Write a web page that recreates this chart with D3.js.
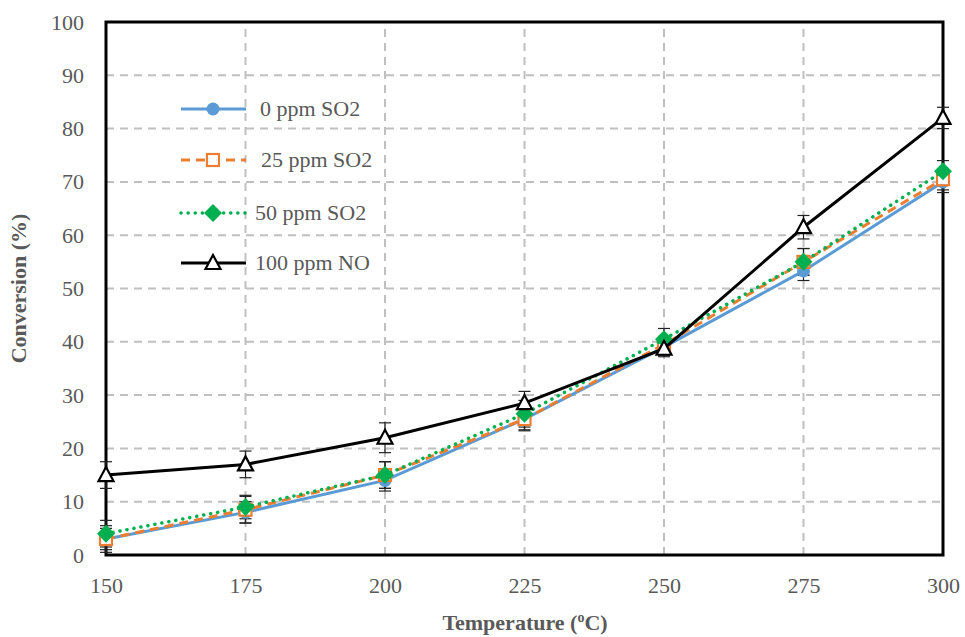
<!DOCTYPE html>
<html><head><meta charset="utf-8">
<script src="https://cdn.jsdelivr.net/npm/d3@7"></script>
<style>body{margin:0;background:#fff;} svg{display:block;}</style>
</head><body>
<svg id="chart" width="965" height="637"></svg>
<script>
const temps = [150, 175, 200, 225, 250, 275, 300];
const yTicks = [0,10,20,30,40,50,60,70,80,90,100];
const seriesNames = ["0 ppm SO2", "25 ppm SO2", "50 ppm SO2", "100 ppm NO"];
const so2_0 = [3, 8, 14, 25.5, 39, 53.3, 70];
const so2_25 = [3, 8.5, 15, 25.5, 39.5, 55, 70.5];
const so2_50 = [4, 9, 15, 26.5, 40.5, 55, 72];
const no_100 = [15, 17, 22, 28.5, 38.7, 61.5, 82];
const err_0 = [2, 2, 2, 2, 1.5, 1.8, 2];
const err_25 = [2.5, 2.5, 2.5, 2.2, 1.5, 2.5, 2];
const err_50 = [2.5, 2.2, 2.5, 2.5, 2, 2.5, 2];
const err_no = [2.5, 2.5, 2.8, 2.2, 1.5, 2.2, 2];

const svg = d3.select("#chart");
const m = {l:106, r:22, t:22, b:82};
const W = 965, H = 637;
const x = d3.scaleLinear().domain([150,300]).range([m.l, W - m.r]);
const y = d3.scaleLinear().domain([0,100]).range([H - m.b, m.t]);
const font = "'Liberation Serif','DejaVu Serif',serif";
const gray = "#595959";

// gridlines
svg.append("g").selectAll("line").data(yTicks.slice(1,-1)).join("line")
  .attr("x1", x(150)).attr("x2", x(300)).attr("y1", d=>y(d)).attr("y2", d=>y(d))
  .attr("stroke", "#c0c0c0").attr("stroke-width", 2).attr("stroke-dasharray", "8,6");
svg.append("g").selectAll("line").data(temps.slice(1,-1)).join("line")
  .attr("x1", d=>x(d)).attr("x2", d=>x(d)).attr("y1", y(0)).attr("y2", y(100))
  .attr("stroke", "#c0c0c0").attr("stroke-width", 2).attr("stroke-dasharray", "8,6");

// axes (labels only)
const yAxis = d3.axisLeft(y).tickValues(yTicks).tickSize(0).tickPadding(22);
const gy = svg.append("g").attr("transform", `translate(${x(150)},0)`).call(yAxis);
gy.select(".domain").remove();
gy.selectAll("text").attr("font-family", font).attr("font-size", 22).attr("fill", gray);
const xAxis = d3.axisBottom(x).tickValues(temps).tickSize(0).tickPadding(22);
const gx = svg.append("g").attr("transform", `translate(0,${y(0)})`).call(xAxis);
gx.select(".domain").remove();
gx.selectAll("text").attr("font-family", font).attr("font-size", 22).attr("fill", gray);

// plot border
svg.append("rect").attr("x", x(150)).attr("y", y(100)).attr("width", x(300)-x(150)).attr("height", y(0)-y(100))
  .attr("fill", "none").attr("stroke", "#000").attr("stroke-width", 3);

// titles
const xt = svg.append("text").attr("x", 525).attr("y", 630).attr("text-anchor", "middle")
  .attr("font-family", font).attr("font-size", 22).attr("font-weight", "bold").attr("fill", gray);
xt.append("tspan").text("Temperature (");
xt.append("tspan").text("o").attr("font-size", 14).attr("dy", -8);
xt.append("tspan").attr("dy", 8).text("C)");
svg.append("text").attr("transform", `translate(26,${(y(0)+y(100))/2}) rotate(-90)`).attr("text-anchor", "middle")
  .attr("font-family", font).attr("font-size", 22).attr("font-weight", "bold").attr("fill", gray)
  .text("Conversion (%)");

const series = [
  {name: seriesNames[0], vals: so2_0, err: err_0, color: "#5B9BD5", dash: null, marker: "circle", w: 3},
  {name: seriesNames[1], vals: so2_25, err: err_25, color: "#ED7D31", dash: "9,6", marker: "square", w: 3},
  {name: seriesNames[2], vals: so2_50, err: err_50, color: "#00B050", dash: "0.1,7", marker: "diamond", w: 3.5},
  {name: seriesNames[3], vals: no_100, err: err_no, color: "#000000", dash: null, marker: "triangle", w: 3}
];

function drawMarker(g, type, color, cx, cy) {
  if (type === "circle") {
    g.append("circle").attr("cx", cx).attr("cy", cy).attr("r", 6.5).attr("fill", color);
  } else if (type === "square") {
    g.append("rect").attr("x", cx-6).attr("y", cy-6).attr("width", 12).attr("height", 12)
      .attr("fill", "#fff").attr("stroke", color).attr("stroke-width", 2.2);
  } else if (type === "diamond") {
    g.append("path").attr("d", `M${cx},${cy-9}L${cx+9},${cy}L${cx},${cy+9}L${cx-9},${cy}Z`).attr("fill", color);
  } else {
    g.append("path").attr("d", `M${cx},${cy-8}L${cx+7.5},${cy+6}L${cx-7.5},${cy+6}Z`)
      .attr("fill", "#fff").attr("stroke", color).attr("stroke-width", 2.2);
  }
}

const line = d3.line().x((d,i)=>x(temps[i])).y(d=>y(d));
// error bars
series.forEach(s => {
  const g = svg.append("g").attr("stroke", "#222").attr("stroke-width", 1.2);
  s.vals.forEach((v,i) => {
    const cx = x(temps[i]);
    g.append("line").attr("x1", cx).attr("x2", cx).attr("y1", y(v+s.err[i])).attr("y2", y(v-s.err[i]));
    g.append("line").attr("x1", cx-6).attr("x2", cx+6).attr("y1", y(v+s.err[i])).attr("y2", y(v+s.err[i]));
    g.append("line").attr("x1", cx-6).attr("x2", cx+6).attr("y1", y(v-s.err[i])).attr("y2", y(v-s.err[i]));
  });
});
series.forEach(s => {
  svg.append("path").datum(s.vals).attr("d", line).attr("fill", "none")
    .attr("stroke", s.color).attr("stroke-width", s.w)
    .attr("stroke-dasharray", s.dash).attr("stroke-linecap", s.marker==="diamond" ? "round" : "butt");
  const g = svg.append("g");
  s.vals.forEach((v,i) => drawMarker(g, s.marker, s.color, x(temps[i]), y(v)));
});

// legend
const legY = [109, 160, 213, 263];
series.forEach((s,i) => {
  const g = svg.append("g");
  g.append("line").attr("x1", 181).attr("x2", 246).attr("y1", legY[i]).attr("y2", legY[i])
    .attr("stroke", s.color).attr("stroke-width", s.w).attr("stroke-dasharray", s.dash)
    .attr("stroke-linecap", s.marker==="diamond" ? "round" : "butt");
  drawMarker(g, s.marker, s.color, 213, legY[i]);
  g.append("text").attr("x", [260,261,255,255][i]).attr("y", legY[i]+7)
    .attr("font-family", font).attr("font-size", 22).attr("fill", gray).text(s.name);
});
</script>
</body></html>
